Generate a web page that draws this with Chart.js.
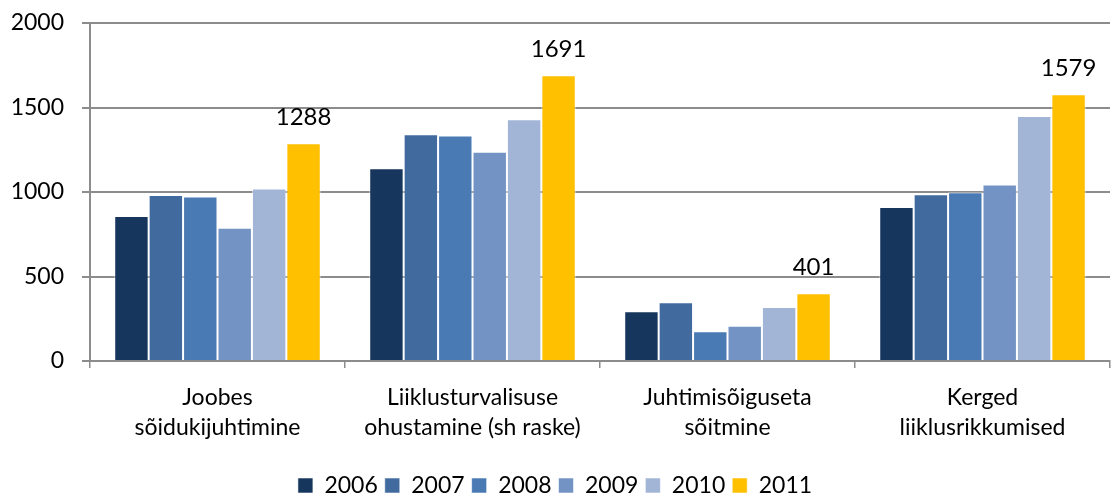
<!DOCTYPE html>
<html>
<head>
<meta charset="utf-8">
<script src="https://cdn.jsdelivr.net/npm/chart.js@4"></script>
<style>
  html, body { margin: 0; padding: 0; background: #fff; }
  #wrap { width: 1114px; height: 496px; }
</style>
</head>
<body>
<div id="wrap"><canvas id="bar-chart" width="1114" height="496"></canvas></div>
<script>
const categories = [
  ['Joobes', 'sõidukijuhtimine'],
  ['Liiklusturvalisuse', 'ohustamine (sh raske)'],
  ['Juhtimisõiguseta', 'sõitmine'],
  ['Kerged', 'liiklusrikkumised']
];
const years = ['2006', '2007', '2008', '2009', '2010', '2011'];
const values2006 = [858, 1140, 294, 911];
const values2007 = [982, 1341, 347, 986];
const values2008 = [974, 1335, 176, 998];
const values2009 = [789, 1238, 209, 1045];
const values2010 = [1020, 1430, 320, 1450];
const values2011 = [1288, 1691, 401, 1579];
const yTicks = [0, 500, 1000, 1500, 2000];

const colors = ['#17365d', '#416b9f', '#4a7ab4', '#7393c4', '#a2b5d6', '#ffc000'];
const series = [values2006, values2007, values2008, values2009, values2010, values2011];
const FONT = 'Lato, "Open Sans", sans-serif';

// labels only on the last year's bars
const lastLabels = {
  id: 'lastLabels',
  afterDatasetsDraw(chart) {
    const ctx = chart.ctx;
    const idx = chart.data.datasets.length - 1;
    const meta = chart.getDatasetMeta(idx);
    ctx.save();
    ctx.font = '24px ' + FONT;
    ctx.fillStyle = '#000';
    ctx.textAlign = 'center';
    ctx.textBaseline = 'alphabetic';
    meta.data.forEach((bar, i) => {
      ctx.fillText(chart.data.datasets[idx].data[i], bar.x, bar.y - 18);
    });
    ctx.restore();
  }
};

const ctx = document.getElementById('bar-chart').getContext('2d');
new Chart(ctx, {
  type: 'bar',
  data: {
    labels: categories,
    datasets: series.map((d, i) => ({
      label: years[i],
      data: d,
      backgroundColor: colors[i],
      borderColor: 'rgba(255,255,255,0.55)',
      borderWidth: 1,
      borderSkipped: 'bottom',
      categoryPercentage: 0.81,
      barPercentage: 1
    }))
  },
  options: {
    responsive: false,
    animation: false,
    layout: { padding: { top: 23, right: 4, left: 0, bottom: -11 } },
    plugins: {
      tooltip: { enabled: false },
      legend: {
        position: 'bottom',
        labels: {
          color: '#000',
          font: { family: FONT, size: 23 },
          boxWidth: 15,
          boxHeight: 15,
          padding: 7
        }
      }
    },
    scales: {
      x: {
        afterFit: (s) => { s.height = 106; },
        grid: {
          drawOnChartArea: false,
          offset: true,
          color: '#8c8c8c',
          lineWidth: 1.5,
          tickLength: 7
        },
        border: { color: '#8c8c8c', width: 2 },
        ticks: {
          color: '#000',
          font: { family: FONT, size: 23, lineHeight: 1.3 },
          padding: 15,
          maxRotation: 0
        }
      },
      y: {
        min: 0,
        max: 2000,
        afterFit: (s) => { s.width = 90; s.paddingTop = 0; s.paddingBottom = 0; },
        afterBuildTicks: (s) => { s.ticks = yTicks.map(v => ({ value: v })); },
        grid: {
          color: '#8c8c8c',
          lineWidth: 2,
          tickLength: 8
        },
        border: { color: '#8c8c8c', width: 2 },
        ticks: {
          color: '#000',
          font: { family: FONT, size: 23 },
          padding: 18,
          callback: (v) => String(v)
        }
      }
    }
  },
  plugins: [lastLabels]
});
</script>
</body>
</html>
